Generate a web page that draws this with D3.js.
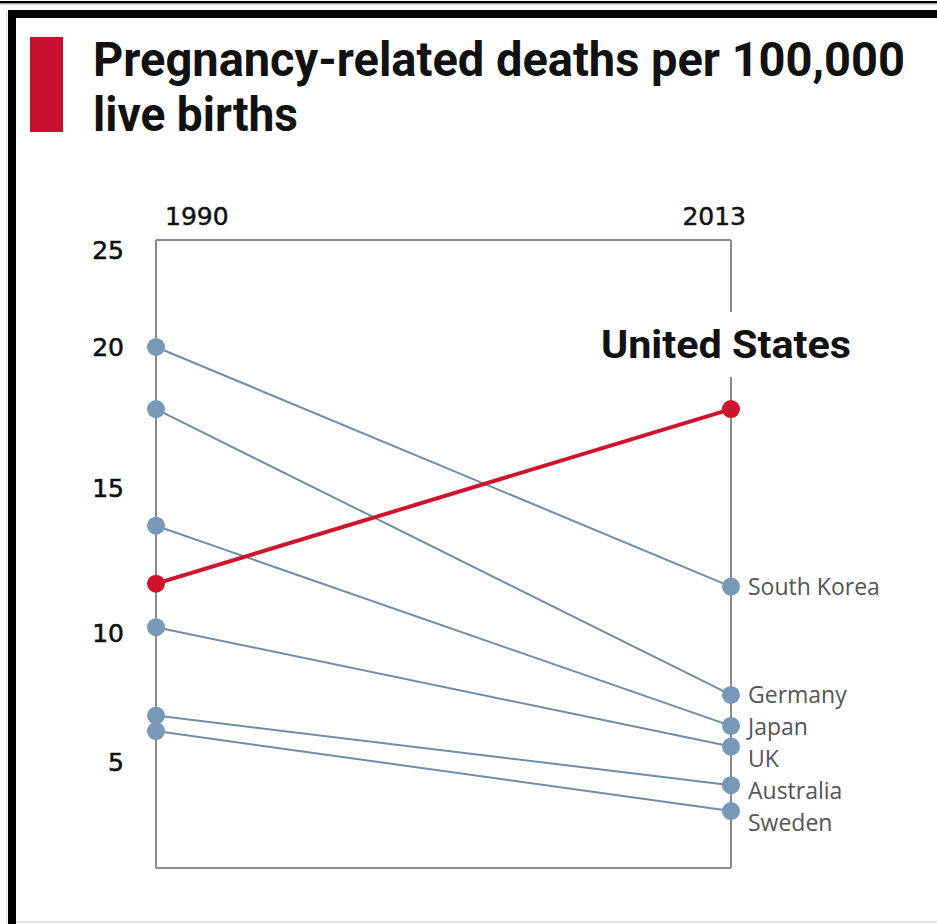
<!DOCTYPE html>
<html>
<head>
<meta charset="utf-8">
<script src="https://cdn.jsdelivr.net/npm/d3@7"></script>
<style>
  html, body { margin: 0; padding: 0; background: #fff; }
  svg { display: block; }
</style>
</head>
<body>
<svg id="chart" width="937" height="924"></svg>
<script>
// ---- data ----
const years = [1990, 2013];
const countries = ["South Korea", "Germany", "Japan", "UK", "Australia", "Sweden"];
const values1990 = [20.0, 17.8, 13.7, 10.2, 6.8, 6.2];
const values2013 = [11.6, 7.6, 6.4, 5.6, 4.1, 3.1];
const highlightName = "United States";
const highlight1990 = 11.7;
const highlight2013 = 17.8;
const yTickValues = [5, 10, 15, 20, 25];
const titleLines = ["Pregnancy-related deaths per 100,000", "live births"];

// ---- layout ----
const W = 937, H = 924;
const plotLeft = 156, plotRight = 731, plotTop = 240, plotBottom = 868;
const blueDot = "#7898b8", blueLine = "#6f8dab", red = "#d0142c", axisGray = "#8a8a8a";

const svg = d3.select("#chart");

// frame
svg.append("rect").attr("x", 0).attr("y", 0).attr("width", W).attr("height", H).attr("fill", "#fff");
svg.append("rect").attr("x", 0).attr("y", 1).attr("width", W).attr("height", 2.5).attr("fill", "#000");
svg.append("rect").attr("x", 0).attr("y", 3.5).attr("width", W).attr("height", 1).attr("fill", "#bbb");
svg.append("rect").attr("x", 8).attr("y", 10).attr("width", W - 8).attr("height", 8).attr("fill", "#000");
svg.append("rect").attr("x", 8).attr("y", 10).attr("width", 8).attr("height", H - 10).attr("fill", "#000");
svg.append("rect").attr("x", 6).attr("y", 10).attr("width", 1).attr("height", H - 10).attr("fill", "#ddd");
svg.append("rect").attr("x", 16).attr("y", 921).attr("width", W - 16).attr("height", 2).attr("fill", "#e4e4e4");

// title
svg.append("rect").attr("x", 30).attr("y", 37).attr("width", 33).attr("height", 95).attr("fill", "#c8102e");
const titleFont = "Roboto, 'Liberation Sans', sans-serif";
svg.append("text").attr("x", 93).attr("y", 76)
  .attr("font-family", titleFont).attr("font-weight", 700).attr("font-size", 48)
  .attr("textLength", 812).attr("lengthAdjust", "spacingAndGlyphs")
  .attr("fill", "#111").text(titleLines[0]);
svg.append("text").attr("x", 93).attr("y", 131)
  .attr("font-family", titleFont).attr("font-weight", 700).attr("font-size", 48)
  .attr("textLength", 205).attr("lengthAdjust", "spacingAndGlyphs")
  .attr("fill", "#111").text(titleLines[1]);

// scales (the reference's axis labels are unevenly spaced, so the scale is piecewise linear)
const x = d3.scaleLinear().domain(d3.extent(years)).range([plotLeft, plotRight]);
const y = d3.scaleLinear().domain(yTickValues).range([762, 633, 488, 347, 250]);

// plot frame
const frame = svg.append("g").attr("stroke", axisGray).attr("stroke-width", 2).attr("fill", "none");
frame.append("line").attr("x1", plotLeft).attr("x2", plotRight).attr("y1", plotTop).attr("y2", plotTop);
frame.append("line").attr("x1", plotLeft).attr("x2", plotRight).attr("y1", plotBottom).attr("y2", plotBottom);
frame.append("line").attr("x1", plotLeft).attr("x2", plotLeft).attr("y1", plotTop).attr("y2", plotBottom);
frame.append("line").attr("x1", plotRight).attr("x2", plotRight).attr("y1", plotTop).attr("y2", plotBottom);

// y axis labels
const yAxis = svg.append("g").attr("transform", `translate(${plotLeft},0)`)
  .call(d3.axisLeft(y).tickValues(yTickValues).tickSize(0).tickPadding(32).tickFormat(d3.format("d")));
yAxis.select(".domain").remove();
yAxis.selectAll("text").attr("font-family", "'DejaVu Sans', sans-serif").attr("font-size", 25)
  .attr("fill", "#111").attr("stroke", "#111").attr("stroke-width", 0.6);

// year labels
const yearFont = "'DejaVu Sans', sans-serif";
svg.append("text").attr("x", x(years[0]) + 9).attr("y", 225)
  .attr("font-family", yearFont).attr("font-size", 25).attr("fill", "#111")
  .attr("stroke", "#111").attr("stroke-width", 0.5).attr("text-anchor", "start").text(years[0]);
svg.append("text").attr("x", x(years[1]) + 15).attr("y", 225)
  .attr("font-family", yearFont).attr("font-size", 25).attr("fill", "#111")
  .attr("stroke", "#111").attr("stroke-width", 0.5).attr("text-anchor", "end").text(years[1]);

// blue lines
const rows = countries.map((c, i) => ({ name: c, v0: values1990[i], v1: values2013[i] }));
svg.append("g").selectAll("line").data(rows).join("line")
  .attr("x1", x(years[0])).attr("x2", x(years[1]))
  .attr("y1", d => y(d.v0)).attr("y2", d => y(d.v1))
  .attr("stroke", blueLine).attr("stroke-width", 2);

const dots = rows.flatMap(d => [{ yr: years[0], v: d.v0 }, { yr: years[1], v: d.v1 }]);
svg.append("g").selectAll("circle").data(dots).join("circle")
  .attr("cx", d => x(d.yr)).attr("cy", d => y(d.v)).attr("r", 9).attr("fill", blueDot);

// country labels with simple dodging
const labelGap = 32;
const sorted = rows.slice().sort((a, b) => y(a.v1) - y(b.v1));
let prev = -Infinity;
sorted.forEach(d => { d.ly = Math.max(y(d.v1), prev + labelGap); prev = d.ly; });
svg.append("g").selectAll("text").data(sorted).join("text")
  .attr("x", plotRight + 17).attr("y", d => d.ly).attr("dy", "0.35em")
  .attr("font-family", "'Open Sans', sans-serif").attr("font-size", 23).attr("fill", "#555")
  .text(d => d.name);

// highlight label with white background breaking the right axis
const hl = svg.append("g");
const hlBg = hl.append("rect").attr("fill", "#fff");
const hlText = hl.append("text").attr("x", 601).attr("y", 358)
  .attr("font-family", titleFont).attr("font-weight", 700).attr("font-size", 39)
  .attr("textLength", 250).attr("lengthAdjust", "spacingAndGlyphs")
  .attr("fill", "#111").text(highlightName);
const bb = hlText.node().getBBox();
hlBg.attr("x", bb.x - 4).attr("y", 312).attr("width", bb.width + 8).attr("height", 65);

// highlight line
svg.append("line")
  .attr("x1", x(years[0])).attr("x2", x(years[1]))
  .attr("y1", y(highlight1990)).attr("y2", y(highlight2013))
  .attr("stroke", red).attr("stroke-width", 4);
svg.append("g").selectAll("circle").data([[years[0], highlight1990], [years[1], highlight2013]]).join("circle")
  .attr("cx", d => x(d[0])).attr("cy", d => y(d[1])).attr("r", 9).attr("fill", red);
</script>
</body>
</html>
